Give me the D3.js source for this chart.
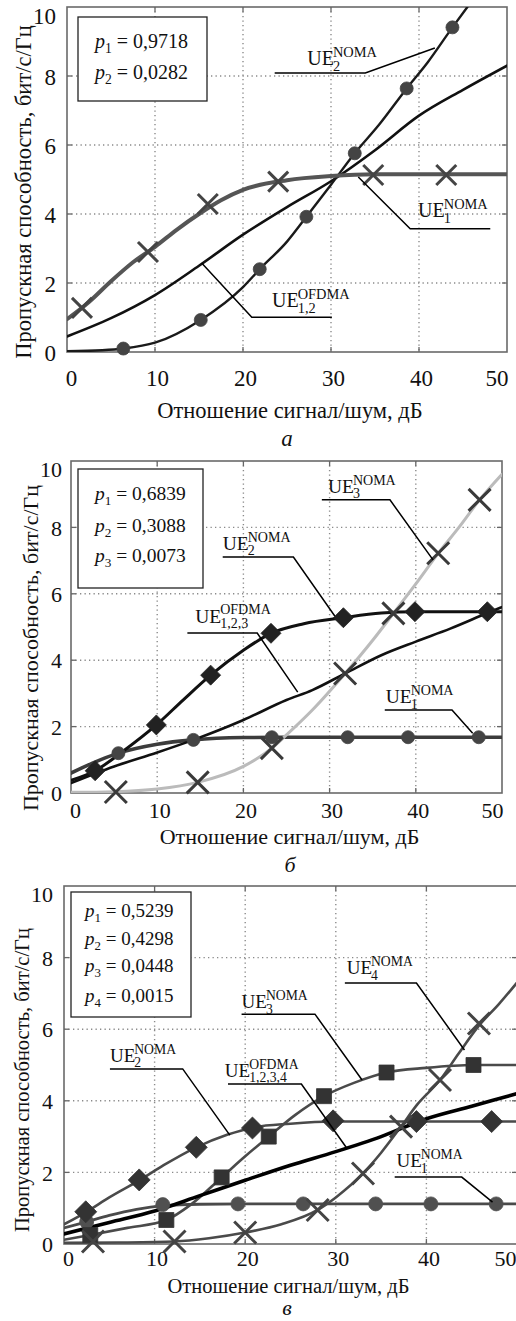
<!DOCTYPE html>
<html>
<head>
<meta charset="utf-8">
<script src="https://cdn.jsdelivr.net/npm/d3@7"></script>
<style>
  body { margin: 0; background: #fff; }
  svg { display: block; }
  text { font-family: "Times New Roman", "Liberation Serif", Tinos, "Noto Serif", "DejaVu Serif", FreeSerif, serif; fill: #111; }
</style>
</head>
<body>
<svg id="chart" width="516" height="1321"></svg>
<script>
// capacity vs SNR, NOMA vs OFDMA, three panels

var xTicks = [0, 10, 20, 30, 40, 50];
var yTicks = [0, 2, 4, 6, 8, 10];
var xTitle = "Отношение сигнал/шум, дБ";
var yTitle = "Пропускная способность, бит/с/Гц";
var serif = "\"Times New Roman\", \"Liberation Serif\", Tinos, \"Noto Serif\", \"DejaVu Serif\", FreeSerif, serif";

// panel а (2 users)
var aProb = ["0,9718", "0,0282"];
var aUe1 = [[0,0.95],[2.5,1.45],[5,2.05],[7.5,2.6],[10,3.05],[12.5,3.55],[15,4.0],[17.5,4.4],[20,4.7],[25,4.98],[30,5.1],[35,5.15],[50,5.15]];
var aUe1Marks = [[1.7,1.28],[9.2,2.9],[16,4.29],[24,4.94],[34.8,5.13],[43.1,5.13]];
var aUe2 = [[0,0.02],[4,0.05],[6.4,0.1],[10,0.27],[15.2,0.93],[20,1.88],[21.9,2.4],[25,3.2],[27.2,3.92],[30,4.85],[32.7,5.76],[35.5,6.6],[38.6,7.64],[41,8.4],[43.8,9.41],[45.5,10]];
var aUe2Marks = [[6.4,0.1],[15.2,0.93],[21.9,2.4],[27.2,3.92],[32.7,5.76],[38.6,7.64],[43.8,9.41]];
var aOfdma = [[0,0.45],[5,0.98],[10,1.65],[15,2.5],[20,3.4],[25,4.2],[30,4.95],[35,5.85],[40,6.85],[45,7.6],[50,8.3]];

// panel б (3 users)
var bProb = ["0,6839", "0,3088", "0,0073"];
var bUe1 = [[0,0.6],[2.5,0.9],[5.5,1.2],[10,1.47],[14.2,1.6],[20,1.67],[25,1.68],[50,1.68]];
var bUe1Marks = [[5.5,1.2],[14.2,1.6],[23.3,1.68],[32.1,1.68],[39.1,1.68],[47.3,1.68]];
var bUe2 = [[0,0.38],[2.8,0.67],[6,1.25],[9.9,2.05],[13,2.8],[16.2,3.55],[20,4.3],[23.2,4.81],[27,5.1],[31.6,5.28],[36,5.42],[40,5.46],[50,5.46]];
var bUe2Marks = [[2.8,0.67],[9.9,2.05],[16.2,3.55],[23.2,4.81],[31.6,5.28],[39.9,5.46],[48.3,5.46]];
var bUe3 = [[0,0.02],[5,0.04],[10,0.12],[14.7,0.32],[20,0.8],[23.3,1.35],[25,1.75],[28,2.5],[31.8,3.6],[35,4.6],[37.4,5.41],[40,6.3],[42.6,7.22],[45,8.0],[47.4,8.83],[50,9.6]];
var bUe3Marks = [[5.2,0.03],[14.7,0.32],[23.3,1.35],[31.8,3.6],[37.4,5.41],[42.6,7.22],[47.4,8.83]];
var bOfdma = [[0,0.3],[5,0.8],[10,1.22],[14.2,1.6],[20,2.2],[25,2.8],[28,3.1],[31.8,3.6],[36,4.15],[40,4.56],[44,4.95],[48.3,5.42],[50,5.6]];

// panel в (4 users)
var cProb = ["0,5239", "0,4298", "0,0448", "0,0015"];
var cUe1 = [[0,0.45],[2.5,0.62],[5,0.8],[8,0.97],[11,1.07],[15,1.11],[20,1.12],[50,1.12]];
var cUe1Marks = [[2.5,0.62],[10.9,1.1],[19.2,1.12],[26.4,1.12],[34.4,1.12],[40.5,1.12],[47.7,1.12]];
var cUe2 = [[0,0.55],[2.5,0.9],[5,1.3],[8.4,1.79],[11,2.2],[14.6,2.7],[18,3.05],[20.8,3.25],[25,3.36],[29.7,3.42],[35,3.42],[50,3.42]];
var cUe2Marks = [[2.4,0.9],[8.3,1.79],[14.6,2.7],[20.8,3.24],[29.7,3.44],[38.9,3.42],[47.2,3.42]];
var cUe3 = [[0,0.12],[2.9,0.25],[7,0.45],[11.3,0.67],[14,1.1],[17.4,1.86],[20,2.45],[22.6,3.0],[25.5,3.6],[28.7,4.13],[32,4.5],[35.6,4.79],[40,4.92],[45.2,5.0],[50,5.0]];
var cUe3Marks = [[2.9,0.25],[11.3,0.67],[17.4,1.86],[22.6,3.0],[28.7,4.13],[35.6,4.79],[45.2,5.0]];
var cUe4 = [[0,0.03],[6,0.04],[12.2,0.07],[16,0.16],[20,0.32],[24,0.55],[28,0.95],[30,1.3],[33,1.97],[35,2.55],[37.2,3.28],[39,3.9],[41.5,4.58],[43.5,5.3],[45.8,6.1],[48,6.7],[50,7.3]];
var cUe4Marks = [[3.2,0.07],[12.2,0.07],[20,0.32],[28,0.95],[33,1.97],[37.2,3.28],[41.5,4.58],[45.8,6.16]];
var cOfdma = [[0,0.28],[5,0.6],[10,0.92],[15,1.35],[20,1.78],[25,2.2],[30,2.58],[35,3.0],[40,3.5],[45,3.85],[50,4.2]];

// callout labels: [sub, sup, text anchor (dB, value), leader polyline]
var aLabels = [
  ["2", "NOMA", [27.3,8.32], [[23.6,8.09],[33.9,8.09],[41.8,8.81]]],
  ["1", "NOMA", [39.9,3.91], [[33.1,5.07],[39.0,3.57],[48.1,3.57]]],
  ["1,2", "OFDMA", [23.3,1.3], [[15.3,2.58],[21.0,1.01],[30.1,1.01]]]
];
var bLabels = [
  ["3", "NOMA", [29.8,9.04], [[29.1,8.83],[37.0,8.83],[42.0,7.02]]],
  ["2", "NOMA", [17.6,7.32], [[17.6,7.11],[25.8,7.11],[30.6,5.33]]],
  ["1,2,3", "OFDMA", [14.4,5.13], [[13.5,4.82],[21.6,4.82],[26.3,3.04]]],
  ["1", "NOMA", [36.5,2.7], [[36.4,2.5],[44.2,2.5],[46.6,1.8]]]
];
var cLabels = [
  ["4", "NOMA", [31.2,7.53], [[31.0,7.29],[38.9,7.29],[44.2,5.42]]],
  ["3", "NOMA", [19.6,6.58], [[19.6,6.42],[27.7,6.42],[32.9,4.58]]],
  ["2", "NOMA", [5.07,5.09], [[5.07,4.89],[13.1,4.89],[18.3,3.04]]],
  ["1,2,3,4", "OFDMA", [17.75,4.67], [[18.1,4.47],[26.2,4.47],[31.2,2.68]]],
  ["1", "NOMA", [36.7,2.14], [[36.5,1.87],[43.9,1.87],[47.3,1.17]]]
];

var svg = d3.select("#chart");

var panels = [
  {
    id: "a", letter: "а", left: 67, right: 507, top: 7, bottom: 352, fs: 22.5, tfs: 23, lfs: 20,
    tickY: 386, titleY: 418, yTitleX: 31, yTitleY: 192, letterY: 446, letterX: 287, yLabX: 56,
    box: [78, 17, 207, 101], probX: 95, probY: [48, 79], prob: aProb,
    series: [
      { data: aOfdma, color: "#111", width: 2.6 },
      { data: aUe2, color: "#1a1a1a", width: 2.4, marks: aUe2Marks, shape: "circle", mcolor: "#444", ms: 6.5 },
      { data: aUe1, color: "#555", width: 4, marks: aUe1Marks, shape: "x", mcolor: "#444", ms: 10 }
    ],
    labels: aLabels
  },
  {
    id: "b", letter: "б", left: 71, right: 502, top: 461, bottom: 793, fs: 22, tfs: 22, lfs: 19.5,
    tickY: 818, titleY: 844, yTitleX: 38, yTitleY: 648, letterY: 872, letterX: 290, yLabX: 62,
    box: [78, 469, 203, 588], probX: 95, probY: [500, 532, 562], prob: bProb,
    series: [
      { data: bUe1, color: "#3c3c3c", width: 3.6, marks: bUe1Marks, shape: "circle", mcolor: "#444", ms: 6.5 },
      { data: bOfdma, color: "#111", width: 2.6 },
      { data: bUe2, color: "#111", width: 3, marks: bUe2Marks, shape: "diamond", mcolor: "#222", ms: 10 },
      { data: bUe3, color: "#bbb", width: 3, marks: bUe3Marks, shape: "x", mcolor: "#3a3a3a", ms: 11 }
    ],
    labels: bLabels
  },
  {
    id: "c", letter: "в", left: 64, right: 517, top: 886, bottom: 1244, fs: 20.5, tfs: 22, lfs: 19,
    tickY: 1266, titleY: 1293, yTitleX: 29, yTitleY: 1080, letterY: 1315, letterX: 287, yLabX: 53,
    box: [71, 892, 191, 1017], probX: 85, probY: [917, 945, 972, 1002], prob: cProb,
    series: [
      { data: cUe1, color: "#4a4a4a", width: 2.8, marks: cUe1Marks, shape: "circle", mcolor: "#505050", ms: 7 },
      { data: cUe2, color: "#4a4a4a", width: 2.6, marks: cUe2Marks, shape: "diamond", mcolor: "#333", ms: 11 },
      { data: cUe3, color: "#4a4a4a", width: 2.6, marks: cUe3Marks, shape: "square", mcolor: "#333", ms: 7.5 },
      { data: cUe4, color: "#4a4a4a", width: 2.6, marks: cUe4Marks, shape: "x", mcolor: "#444", ms: 11 },
      { data: cOfdma, color: "#000", width: 3.6 }
    ],
    labels: cLabels
  }
];

function shapePath(shape, s) {
  if (shape === "x") return "M" + (-s) + "," + (-s) + "L" + s + "," + s + "M" + (-s) + "," + s + "L" + s + "," + (-s);
  if (shape === "diamond") return "M0," + (-s) + "L" + s + ",0L0," + s + "L" + (-s) + ",0Z";
  if (shape === "square") return "M" + (-s) + "," + (-s) + "H" + s + "V" + s + "H" + (-s) + "Z";
  return d3.symbol(d3.symbolCircle, Math.PI * s * s)();
}

function draw(p) {
  var x = d3.scaleLinear().domain([0, 50]).range([p.left, p.right]);
  var y = d3.scaleLinear().domain([0, 10]).range([p.bottom, p.top]);
  var g = svg.append("g").attr("class", "panel-" + p.id);

  svg.append("clipPath").attr("id", "clip-" + p.id)
    .append("rect")
    .attr("x", p.left).attr("y", p.top)
    .attr("width", p.right - p.left).attr("height", p.bottom - p.top);

  // dotted grid
  g.selectAll("line.gx").data(xTicks.slice(1, -1)).enter().append("line")
    .attr("x1", function(d) { return x(d); }).attr("x2", function(d) { return x(d); })
    .attr("y1", p.top).attr("y2", p.bottom)
    .attr("stroke", "#8a8a8a").attr("stroke-width", 1.4).attr("stroke-dasharray", "1.3,3.2");
  g.selectAll("line.gy").data(yTicks.slice(1, -1)).enter().append("line")
    .attr("y1", function(d) { return y(d); }).attr("y2", function(d) { return y(d); })
    .attr("x1", p.left).attr("x2", p.right)
    .attr("stroke", "#8a8a8a").attr("stroke-width", 1.4).attr("stroke-dasharray", "1.3,3.2");

  // inner ticks on all sides
  var tk = 5;
  xTicks.slice(1, -1).forEach(function(d) {
    g.append("line").attr("x1", x(d)).attr("x2", x(d)).attr("y1", p.bottom).attr("y2", p.bottom - tk).attr("stroke", "#666").attr("stroke-width", 1.3);
    g.append("line").attr("x1", x(d)).attr("x2", x(d)).attr("y1", p.top).attr("y2", p.top + tk).attr("stroke", "#666").attr("stroke-width", 1.3);
  });
  yTicks.slice(1, -1).forEach(function(d) {
    g.append("line").attr("y1", y(d)).attr("y2", y(d)).attr("x1", p.left).attr("x2", p.left + tk).attr("stroke", "#666").attr("stroke-width", 1.3);
    g.append("line").attr("y1", y(d)).attr("y2", y(d)).attr("x1", p.right).attr("x2", p.right - tk).attr("stroke", "#666").attr("stroke-width", 1.3);
  });

  // frame
  g.append("rect")
    .attr("x", p.left).attr("y", p.top)
    .attr("width", p.right - p.left).attr("height", p.bottom - p.top)
    .attr("fill", "none").attr("stroke", "#6a6a6a").attr("stroke-width", 1.6);

  // axes (labels only)
  var ax = g.append("g").attr("transform", "translate(0," + p.bottom + ")")
    .call(d3.axisBottom(x).tickValues(xTicks).tickSize(0).tickFormat(d3.format("d")));
  ax.attr("font-family", null).attr("font-size", null);
  ax.select(".domain").remove();
  ax.selectAll("text").attr("y", p.tickY - p.bottom).attr("dy", null)
    .attr("text-anchor", function(d, i) { return i === xTicks.length - 1 ? "end" : "middle"; })
    .attr("x", function(d, i) { return i === 0 ? 4 : (i === xTicks.length - 1 ? Math.min(516, p.right + 1) - x(d) : 2); })
    .style("font-size", p.tfs + "px").style("font-family", serif).attr("fill", "#111");

  var ay = g.append("g").attr("transform", "translate(" + p.yLabX + ",0)")
    .call(d3.axisLeft(y).tickValues(yTicks).tickSize(0).tickPadding(0).tickFormat(d3.format("d")));
  ay.attr("font-family", null).attr("font-size", null);
  ay.select(".domain").remove();
  ay.selectAll("text").attr("dy", "0.35em")
    .attr("y", function(d, i) { return i === yTicks.length - 1 ? 8 : 0; })
    .style("font-size", p.tfs + "px").style("font-family", serif).attr("fill", "#111");

  // titles
  g.append("text").attr("x", (p.left + Math.min(p.right, 507)) / 2 + 3).attr("y", p.titleY)
    .attr("text-anchor", "middle").style("font-size", p.fs + "px").text(xTitle);
  g.append("text")
    .attr("transform", "translate(" + p.yTitleX + "," + p.yTitleY + ") rotate(-90)")
    .attr("text-anchor", "middle").style("font-size", p.fs + "px").text(yTitle);
  g.append("text").attr("x", p.letterX).attr("y", p.letterY)
    .attr("text-anchor", "middle").style("font-size", p.tfs + "px").style("font-style", "italic").text(p.letter);

  // curves
  var line = d3.line()
    .x(function(d) { return x(d[0]); })
    .y(function(d) { return y(d[1]); })
    .curve(d3.curveMonotoneX);
  var cg = g.append("g").attr("clip-path", "url(#clip-" + p.id + ")");
  p.series.forEach(function(s) {
    cg.append("path").datum(s.data)
      .attr("d", line).attr("fill", "none")
      .attr("stroke", s.color).attr("stroke-width", s.width)
      .attr("stroke-linejoin", "round").attr("stroke-linecap", "round");
  });
  p.series.forEach(function(s) {
    if (!s.marks) return;
    g.selectAll(null).data(s.marks).enter().append("path")
      .attr("transform", function(d) { return "translate(" + x(d[0]) + "," + y(d[1]) + ")"; })
      .attr("d", shapePath(s.shape, s.ms))
      .attr("fill", s.shape === "x" ? "none" : s.mcolor)
      .attr("stroke", s.mcolor)
      .attr("stroke-width", s.shape === "x" ? 3 : 0.8);
  });

  // callouts
  p.labels.forEach(function(l) {
    g.append("path")
      .attr("d", d3.line().x(function(d) { return x(d[0]); }).y(function(d) { return y(d[1]); })(l[3]))
      .attr("fill", "none").attr("stroke", "#000").attr("stroke-width", 1.5);
    var tx = x(l[2][0]), ty = y(l[2][1]);
    var ue = g.append("text").attr("x", tx).attr("y", ty).style("font-size", p.lfs + "px").text("UE");
    var w = ue.node().getComputedTextLength();
    g.append("text").attr("x", tx + w - 1).attr("y", ty - p.lfs * 0.42)
      .style("font-size", (p.lfs * 0.72) + "px").text(l[1]);
    g.append("text").attr("x", tx + w - 1).attr("y", ty + p.lfs * 0.28)
      .style("font-size", (p.lfs * 0.72) + "px").text(l[0]);
  });

  // probability box
  var b = p.box;
  g.append("rect").attr("x", b[0]).attr("y", b[1]).attr("width", b[2] - b[0]).attr("height", b[3] - b[1])
    .attr("fill", "#fff").attr("stroke", "#222").attr("stroke-width", 1.3);
  p.prob.forEach(function(v, i) {
    var t = g.append("text").attr("x", p.probX).attr("y", p.probY[i]).style("font-size", p.lfs + "px");
    t.append("tspan").style("font-style", "italic").text("p");
    t.append("tspan").attr("dy", p.lfs * 0.25).style("font-size", (p.lfs * 0.68) + "px").text(i + 1);
    t.append("tspan").attr("dy", -p.lfs * 0.25).text(" = " + v);
  });
}

panels.forEach(draw);
</script>
</body>
</html>
